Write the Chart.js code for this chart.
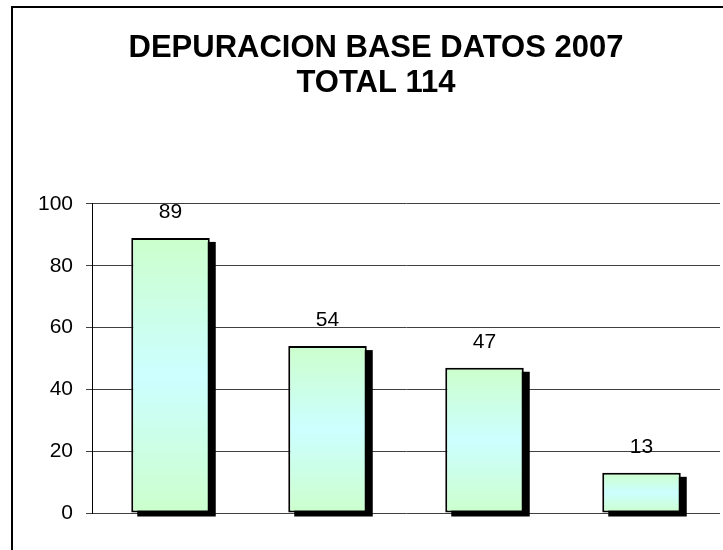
<!DOCTYPE html>
<html lang="es">
<head>
  <meta charset="UTF-8" />
  <title>Depuracion base datos 2007</title>
  <script src="https://cdn.jsdelivr.net/npm/chart.js"></script>
  <style>
    html,body{margin:0;padding:0;background:#fff;overflow:hidden;width:723px;height:550px;}
    .frame{position:absolute;left:11px;top:6px;width:800px;height:700px;border:2px solid #000;}
    .wrap{position:absolute;left:0;top:0;width:752px;height:550px;}
  </style>
</head>
<body>
  <div class="frame"></div>
  <div class="wrap"><canvas id="chart" width="752" height="550"></canvas></div>

<script>
// ── data ──────────────────────────────────────────────────────────────────
const categories = ['1', '2', '3', '4'];       // category names are not shown
const values     = [89, 54, 47, 13];
const titleLines = ['DEPURACION BASE DATOS 2007', 'TOTAL 114'];
const yTicks     = [0, 20, 40, 60, 80, 100];

const FONT = "'Liberation Sans', Arial, sans-serif";

// green → cyan → green, one gradient per bar, spanning that bar only
function barGradient(c){
  const chart = c.chart;
  if(!chart.chartArea || c.raw == null) return '#ccffff';
  const y = chart.scales.y;
  const top = y.getPixelForValue(c.raw), bot = y.getPixelForValue(0);
  const g = chart.ctx.createLinearGradient(0, top, 0, bot);
  g.addColorStop(0, '#ccffcc');
  g.addColorStop(0.5, '#ccffff');
  g.addColorStop(1, '#ccffcc');
  return g;
}

// black drop shadow behind each bar
const shadowPlugin = {
  id: 'shadow',
  beforeDatasetsDraw(chart){
    const ctx = chart.ctx;
    const meta = chart.getDatasetMeta(0);
    ctx.save();
    ctx.fillStyle = '#000';
    meta.data.forEach(el => {
      const {x, y, base, width} = el.getProps(['x','y','base','width'], true);
      ctx.fillRect(x - width/2 + 6, y + 4, width, base - y);
    });
    ctx.restore();
  }
};

// value labels above the bars
const valueLabels = {
  id: 'valueLabels',
  afterDatasetsDraw(chart){
    const ctx = chart.ctx;
    const meta = chart.getDatasetMeta(0);
    ctx.save();
    ctx.font = '21px ' + FONT;
    ctx.fillStyle = '#000';
    ctx.textAlign = 'center';
    ctx.textBaseline = 'alphabetic';
    meta.data.forEach((el, i) => {
      const {x, y} = el.getProps(['x','y'], true);
      ctx.fillText(String(values[i]), x, y - 20);
    });
    ctx.restore();
  }
};

new Chart(document.getElementById('chart'), {
  type: 'bar',
  data: {
    labels: categories,
    datasets: [{
      data: values,
      backgroundColor: barGradient,
      borderColor: '#000',
      borderWidth: 2,
      borderSkipped: false,
      barPercentage: 0.5,
      categoryPercentage: 1
    }]
  },
  options: {
    responsive: false,
    animation: false,
    layout: { padding: { left: 32, right: 32, top: 0, bottom: 37 } },
    plugins: {
      legend: { display: false },
      tooltip: { enabled: false },
      title: {
        display: true,
        text: titleLines,
        color: '#000',
        font: { family: FONT, size: 31, weight: 'bold', lineHeight: 1.16 },
        padding: { top: 30, bottom: 102 }
      }
    },
    scales: {
      x: {
        display: false,
        grid: { display: false }
      },
      y: {
        min: 0,
        max: 100,
        afterFit(scale){ scale.width = 60; },
        afterBuildTicks(scale){ scale.ticks = yTicks.map(v => ({value: v})); },
        border: { display: true, color: '#000', width: 1 },
        grid: { color: '#404040', lineWidth: 1, tickLength: 6, drawTicks: true },
        ticks: { color: '#000', padding: 13, font: { family: FONT, size: 21 } }
      }
    }
  },
  plugins: [shadowPlugin, valueLabels]
});
</script>
</body>
</html>
